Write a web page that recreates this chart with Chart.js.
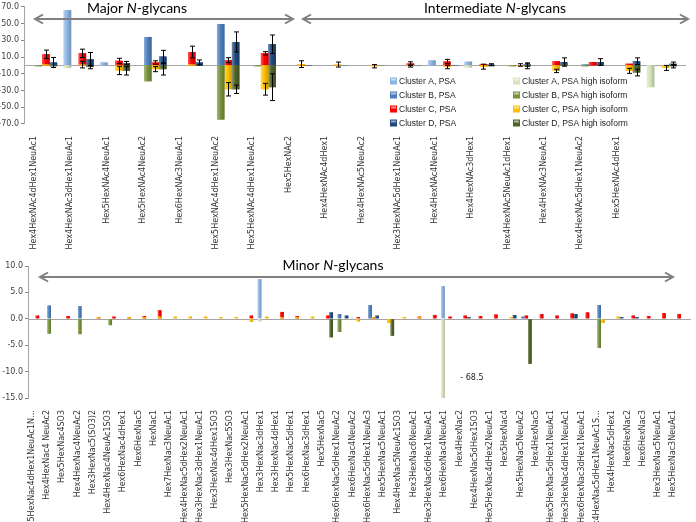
<!DOCTYPE html>
<html>
<head>
<meta charset="utf-8">
<script src="https://cdn.jsdelivr.net/npm/chart.js@4.4.1/dist/chart.umd.min.js"></script>
<style>
  body { margin: 0; background: #fff; }
  #wrap { position: relative; width: 696px; height: 522px; }
  .box { position: absolute; left: 0; width: 696px; }
</style>
</head>
<body>
<div id="wrap">
  <div class="box" style="top:0;height:255px"><canvas id="topChart"></canvas></div>
  <div class="box" style="top:255px;height:267px"><canvas id="bottomChart"></canvas></div>
</div>
<script>
// series
const seriesNames = ["Cluster A, PSA", "Cluster B, PSA", "Cluster C, PSA", "Cluster D, PSA",
  "Cluster A, PSA high isoform", "Cluster B, PSA high isoform", "Cluster C, PSA high isoform", "Cluster D, PSA high isoform"];
const seriesColors = ["#8db3e2", "#4f81bd", "#ff0000", "#1f497d", "#d7e4bd", "#77933c", "#ffc000", "#4f6228"];
const clusterOf = ["A", "B", "C", "D", "A", "B", "C", "D"];

// major + intermediate N-glycans
const topLabels = ["Hex4HexNAc4dHex1NeuAc1", "Hex4HexNAc3dHex1NeuAc1", "Hex5HexNAc4NeuAc1", "Hex5HexNAc4NeuAc2",
  "Hex6HexNAc3NeuAc1", "Hex5HexNAc4dHex1NeuAc2", "Hex5HexNAc4dHex1NeuAc1", "Hex5HexNAc2",
  "Hex4HexNAc4dHex1", "Hex4HexNAc5NeuAc2", "Hex3HexNAc5dHex1NeuAc1", "Hex4HexNAc4NeuAc1",
  "Hex4HexNAc3dHex1", "Hex4HexNAc5NeuAc1dHex1", "Hex4HexNAc3NeuAc1", "Hex4HexNAc5dHex1NeuAc2",
  "Hex5HexNAc4dHex1", ""];
const topA  = [0, 66, 3.5, 0, 0, 0, 0, 0, 0, 0, 0, 6, 4.5, 0, 0, 0, 0, 0];
const topB  = [0, 0, 0, 34, 0, 49.5, 0, 0, 0, 0, 0, 0, 0, 0, 0, 1, 0, 0];
const topC  = [13.3, 14.4, 5.5, 3.5, 16, 6.2, 14.4, 1, 0.5, 0.5, 2.3, 4.7, 1.5, 0.5, 5, 4, 2, 0.5];
const topD  = [3.5, 7.4, 2.7, 10.5, 3.5, 28, 25.3, 0.5, 0.3, 0, 0.3, 0.5, 1, 1, 4, 4, 5, 2];
const topAh = [0, -3, 0, 0, 0, 0, 0, 0, 0, 0, 0, 0, -2.5, 0, 0, 0, 0, -26];
const topBh = [-1, 0, 0, -19, 0, -64.7, -1, 0, 0, 0, 0, 0, 0, -1, 0, -1, 0, 0];
const topCh = [1, 1, -6, -4.5, 1, -28.5, -28.5, 1.5, 1, -1, -1, -2, -1.5, 0.5, -6.6, 0, -6.5, -3];
const topDh = [-1, -2, -6.5, -4.5, 0.5, -28.5, -26, -0.5, 0, -0.5, 0, 0, -1, -1, 1, 0, -8.5, -1];
// error bars
const topCErr  = [5, 5, 3, 2, 7, 3, 2, 0, 0, 0, 2, 2.5, 0, 0, 0, 0, 0, 0];
const topDErr  = [6, 8, 2, 7.5, 3, 12, 11, 0, 0, 0, 0, 0, 1, 2, 5, 4, 4, 2];
const topChErr = [0, 4, 5, 3, 0, 8, 7, 4, 3, 2, 1, 2, 3, 1.5, 2, 0, 3, 3];
const topDhErr = [0, 2, 5, 7, 0, 5, 16, 0, 0, 0, 0, 0, 0, 3, 0, 0, 4, 2];
const topTicks = [-70, -50, -30, -10, 10, 30, 50, 70];

// minor N-glycans
const bottomLabels = ["Hex5HexNac4dHex1NeuAc1N…", "Hex4HexNac4 NeuAc2", "Hex5HexNac4SO3", "Hex4HexNac4NeuAc2",
  "Hex3HexNac5(SO3)2", "Hex4HexNac4NeuAc1SO3", "Hex6HexNac4dHex1", "Hex6HexNac5", "HexNac1",
  "Hex7HexNac3NeuAc1", "Hex4HexNac5dHex2NeuAc1", "Hex3HexNac3dHex1NeuAc1", "Hex3HexNac4dHex1SO3",
  "Hex3HexNac5SO3", "Hex5HexNac5dHex2NeuAc1", "Hex3HexNac3dHex1", "Hex3HexNac4dHex1", "Hex5HexNac5dHex1",
  "Hex6HexNac3dHex1", "Hex5HexNac5", "Hex6HexNac5dHex1NeuAc2", "Hex6HexNac4NeuAc2", "Hex6HexNac5dHex1NeuAc3",
  "Hex5HexNac5NeuAc1", "Hex4HexNac5NeuAc1SO3", "Hex3HexNac6NeuAc1", "Hex3HexNac6dHex1NeuAc1",
  "Hex6HexNac4NeuAc1", "Hex4HexNac2", "Hex4HexNac5dHex1SO3", "Hex5HexNac4dHex2NeuAc1", "Hex5HexNac4",
  "Hex5HexNac5NeuAc2", "Hex4HexNac5", "Hex5HexNac5dHex1NeuAc1", "Hex3HexNac4dHex1NeuAc1",
  "Hex6HexNac3dHex1NeuAc1", "Hex4HexNac5dHex1NeuAc1S…", "Hex4HexNac5dHex1", "Hex6HexNac2", "Hex6HexNac3",
  "Hex3HexNac5NeuAc1", "Hex5HexNac3NeuAc1"];
const botA  = [0,0,0,0,0,0,0,0,0,0, 0,0,0,0,0,7.5,0,0,0,0, 0,0,0,0,0,0,0,6.2,0,0, 0,0,0,0,0,0,0,0,0,0, 0,0,0];
const botB  = [0,2.5,0,2.4,0,0,0,0,0,0, 0,0,0,0,0,0,0,0,0,0, 0.9,0,2.6,0,0,0,0,0,0,0, 0,0,0.4,0,0,0,0,2.6,0,0, 0,0,0];
const botC  = [0.6,0,0.5,0,0.3,0.4,0.3,0.5,1.6,0, 0,0,0,0,0.6,0,1.3,0.5,0,0.6, 0,0.3,0.3,0,0,0.4,0.7,0.4,0.6,0.5, 0.8,0,0.6,0.9,0.6,1.0,1.2,0,0,0.6, 0.5,1.1,0.9];
const botD  = [0,0,0,0,0,0,0,0,0,0, 0,0,0,0,0,0,0,0,0,1.2, 0.6,0,0.6,0,0,0,0,0,0.3,0, 0,0.7,0,0,0,0.9,0,0,0.3,0.3, 0,0,0];
const botAh = [0,0,0,0,0,0,0,0,0,0, 0,0,0,0,0,-0.5,0,0,0,0, 0,0.2,0,0,0,0,0,-68.5,0,0, 0,0,0,0,0,0,0,0,0,0, 0,0,0];
const botBh = [0,-2.8,0,-2.9,0,-1.2,0,0,0,0, 0,0,0,0,0,0,0,0,0,0, -2.5,0,0,0,0,0,0,0,0,0, 0,0,0,0,0,0,0,-5.5,0,0, 0,0,0];
const botCh = [0,0,0,0,0.3,0,0.3,0.3,0.4,0.4, 0.4,0.4,0.3,0.3,-0.6,0.4,0.3,0.3,0.4,0, 0,-0.5,0.3,-0.8,0.3,0.3,0,0,0,0, 0,0.3,0,0,0,0,0,-0.8,0.4,0, 0,0,0];
const botDh = [0,0,0,0,0,0,0,0,0,0, 0,0,0,0,0,0,0,0,0,-3.5, 0,0,0,-3.2,0,0,0,0,0,0, 0,0,-8.5,0,0,0,0,0,0,0, 0,0,0];
const bottomTicks = [-15, -10, -5, 0, 5, 10];

Chart.defaults.font.family = "DejaVu Sans";
Chart.defaults.animation = false;

// PSA and PSA-high bars of one cluster share a slot and overlap (not stacked)
function makeDatasets(lists, catPct) {
  return lists.map((vals, i) => ({
    label: seriesNames[i],
    data: vals,
    backgroundColor: seriesColors[i],
    borderWidth: 0,
    stack: clusterOf[i],
    order: i < 4 ? 1 : 0,
    barPercentage: 1,
    categoryPercentage: catPct
  }));
}

function shade(hex, f) {
  const n = parseInt(hex.slice(1), 16);
  const c = [n >> 16, (n >> 8) & 255, n & 255].map(v =>
    Math.round(f >= 0 ? v + (255 - v) * f : v * (1 + f)));
  return "rgb(" + c.join(",") + ")";
}

// soft shading on each bar, like the office 2007 look
const barShade = {
  id: "barShade",
  afterDatasetDraw(chart, args) {
    const { ctx, chartArea } = chart;
    const col = chart.data.datasets[args.index].backgroundColor;
    ctx.save();
    ctx.beginPath();
    ctx.rect(chartArea.left, chartArea.top, chartArea.right - chartArea.left, chartArea.bottom - chartArea.top);
    ctx.clip();
    args.meta.data.forEach(bar => {
      const { x, y, base, width } = bar.getProps(["x", "y", "base", "width"], true);
      if (Math.abs(base - y) < 0.5) return;
      const g = ctx.createLinearGradient(x - width / 2, 0, x + width / 2, 0);
      g.addColorStop(0, shade(col, 0.35));
      g.addColorStop(0.45, col);
      g.addColorStop(1, shade(col, -0.2));
      ctx.fillStyle = g;
      ctx.fillRect(x - width / 2, Math.min(y, base), width, Math.abs(base - y));
    });
    ctx.restore();
  }
};

function drawArrow(ctx, x1, x2, y) {
  ctx.strokeStyle = "#7f7f7f";
  ctx.lineWidth = 2;
  ctx.beginPath();
  ctx.moveTo(x1, y); ctx.lineTo(x2, y);
  ctx.moveTo(x1 + 8, y - 4.5); ctx.lineTo(x1, y); ctx.lineTo(x1 + 8, y + 4.5);
  ctx.moveTo(x2 - 8, y - 4.5); ctx.lineTo(x2, y); ctx.lineTo(x2 - 8, y + 4.5);
  ctx.stroke();
}

function drawTitle(ctx, parts, cx, y) {
  const fonts = parts.map(p => (p[1] ? "italic " : "") + "14px Lato");
  let w = 0;
  parts.forEach((p, i) => { ctx.font = fonts[i]; w += ctx.measureText(p[0]).width; });
  let x = cx - w / 2;
  ctx.fillStyle = "#000";
  ctx.textBaseline = "middle";
  ctx.textAlign = "left";
  parts.forEach((p, i) => {
    ctx.font = fonts[i];
    ctx.fillText(p[0], x, y);
    x += ctx.measureText(p[0]).width;
  });
}

const annotations = {
  id: "annotations",
  afterDraw(chart, args, opts) {
    const ctx = chart.ctx;
    ctx.save();
    (opts.arrows || []).forEach(a => drawArrow(ctx, a[0], a[1], a[2]));
    (opts.titles || []).forEach(t => drawTitle(ctx, t.parts, t.x, t.y));
    ctx.restore();
  }
};

// zero line (category axis crosses at 0)
const zeroLine = {
  id: "zeroLine",
  beforeDatasetsDraw(chart) {
    const { ctx, chartArea, scales } = chart;
    const y = Math.round(scales.y.getPixelForValue(0)) + 0.5;
    ctx.save();
    ctx.strokeStyle = "#a6a6a6";
    ctx.lineWidth = 1;
    ctx.beginPath();
    ctx.moveTo(chartArea.left, y);
    ctx.lineTo(chartArea.right + 6, y);
    ctx.stroke();
    ctx.restore();
  }
};

const errorBars = {
  id: "errorBars",
  afterDatasetsDraw(chart, args, opts) {
    const { ctx, scales } = chart;
    const errs = opts.errs || [];
    ctx.save();
    ctx.strokeStyle = "#000";
    ctx.lineWidth = 1;
    errs.forEach((arr, i) => {
      if (!arr) return;
      const meta = chart.getDatasetMeta(i);
      const vals = chart.data.datasets[i].data;
      arr.forEach((e, j) => {
        if (!e) return;
        const bar = meta.data[j];
        const x = Math.round(bar.x) + 0.5;
        const y1 = scales.y.getPixelForValue(vals[j] + e);
        const y2 = scales.y.getPixelForValue(vals[j] - e);
        ctx.beginPath();
        ctx.moveTo(x, y1); ctx.lineTo(x, y2);
        ctx.moveTo(x - 2.5, y1); ctx.lineTo(x + 2.5, y1);
        ctx.moveTo(x - 2.5, y2); ctx.lineTo(x + 2.5, y2);
        ctx.stroke();
      });
    });
    ctx.restore();
  }
};

const boxLegend = {
  id: "boxLegend",
  afterDraw(chart, args, opts) {
    const ctx = chart.ctx;
    ctx.save();
    ctx.font = "8.5px 'Liberation Sans'";
    ctx.textBaseline = "middle";
    ctx.textAlign = "left";
    chart.data.datasets.forEach((ds, i) => {
      const x = opts.cols[Math.floor(i / 4)];
      const y = opts.rows[i % 4];
      ctx.fillStyle = ds.backgroundColor;
      ctx.fillRect(x, y - 3.5, 7, 7);
      ctx.fillStyle = "rgba(255,255,255,0.55)";
      ctx.fillRect(x + 1, y - 2.5, 5, 2);
      ctx.fillStyle = "#222";
      ctx.fillText(ds.label, x + 9, y + 0.5);
    });
    ctx.restore();
  }
};

const minorLabel = {
  id: "minorLabel",
  afterDraw(chart) {
    const bar = chart.getDatasetMeta(4).data[27];
    const ctx = chart.ctx;
    ctx.save();
    ctx.font = "8px 'DejaVu Sans'";
    ctx.fillStyle = "#222";
    ctx.textAlign = "center";
    ctx.textBaseline = "middle";
    ctx.fillText("- 68.5", bar.x + 29, chart.chartArea.bottom - 20);
    ctx.restore();
  }
};

function axisOptions(labels, labelOffset, height, ticks, yWidth, fontSize) {
  return {
    x: {
      type: "category",
      labels: labels,
      offset: true,
      grid: { display: false },
      border: { display: false },
      ticks: {
        autoSkip: false, minRotation: 90, maxRotation: 90,
        labelOffset: labelOffset, padding: 4,
        color: "#333", font: { size: fontSize }
      },
      afterFit: s => { s.height = height; }
    },
    y: {
      stacked: false,
      min: ticks[0], max: ticks[ticks.length - 1],
      afterBuildTicks: s => { s.ticks = ticks.map(v => ({ value: v })); },
      grid: { drawOnChartArea: false, tickLength: 3, color: "#868686" },
      border: { color: "#a6a6a6" },
      ticks: { padding: 2, color: "#404040", font: { size: 8 }, callback: v => v.toFixed(1) },
      afterFit: s => { s.width = yWidth; }
    }
  };
}

new Chart(document.getElementById("topChart"), {
  type: "bar",
  data: { labels: topLabels, datasets: makeDatasets([topA, topB, topC, topD, topAh, topBh, topCh, topDh], 0.82) },
  options: {
    responsive: true, maintainAspectRatio: false,
    layout: { padding: { top: 4, right: 16, left: 0, bottom: 0 } },
    scales: axisOptions(topLabels, -8.5, 131, topTicks, 24, 8),
    plugins: {
      legend: { display: false }, tooltip: { enabled: false },
      errorBars: { errs: [null, null, topCErr, topDErr, null, null, topChErr, topDhErr] },
      boxLegend: { cols: [390, 513], rows: [81, 95, 109, 123] },
      annotations: {
        arrows: [[35, 293, 19], [303, 688, 19]],
        titles: [
          { parts: [["Major ", false], ["N", true], ["-glycans", false]], x: 137, y: 8 },
          { parts: [["Intermediate ", false], ["N", true], ["-glycans", false]], x: 495, y: 8 }
        ]
      }
    }
  },
  plugins: [zeroLine, barShade, errorBars, boxLegend, annotations]
});

new Chart(document.getElementById("bottomChart"), {
  type: "bar",
  data: { labels: bottomLabels, datasets: makeDatasets([botA, botB, botC, botD, botAh, botBh, botCh, botDh], 0.92) },
  options: {
    responsive: true, maintainAspectRatio: false,
    layout: { padding: { top: 11, right: 11, left: 0, bottom: 0 } },
    scales: axisOptions(bottomLabels, -4, 124, bottomTicks, 28, 8),
    plugins: {
      legend: { display: false }, tooltip: { enabled: false },
      annotations: {
        arrows: [[40, 673, 22]],
        titles: [{ parts: [["Minor ", false], ["N", true], ["-glycans", false]], x: 333, y: 10 }]
      }
    }
  },
  plugins: [zeroLine, barShade, minorLabel, annotations]
});
</script>
</body>
</html>
